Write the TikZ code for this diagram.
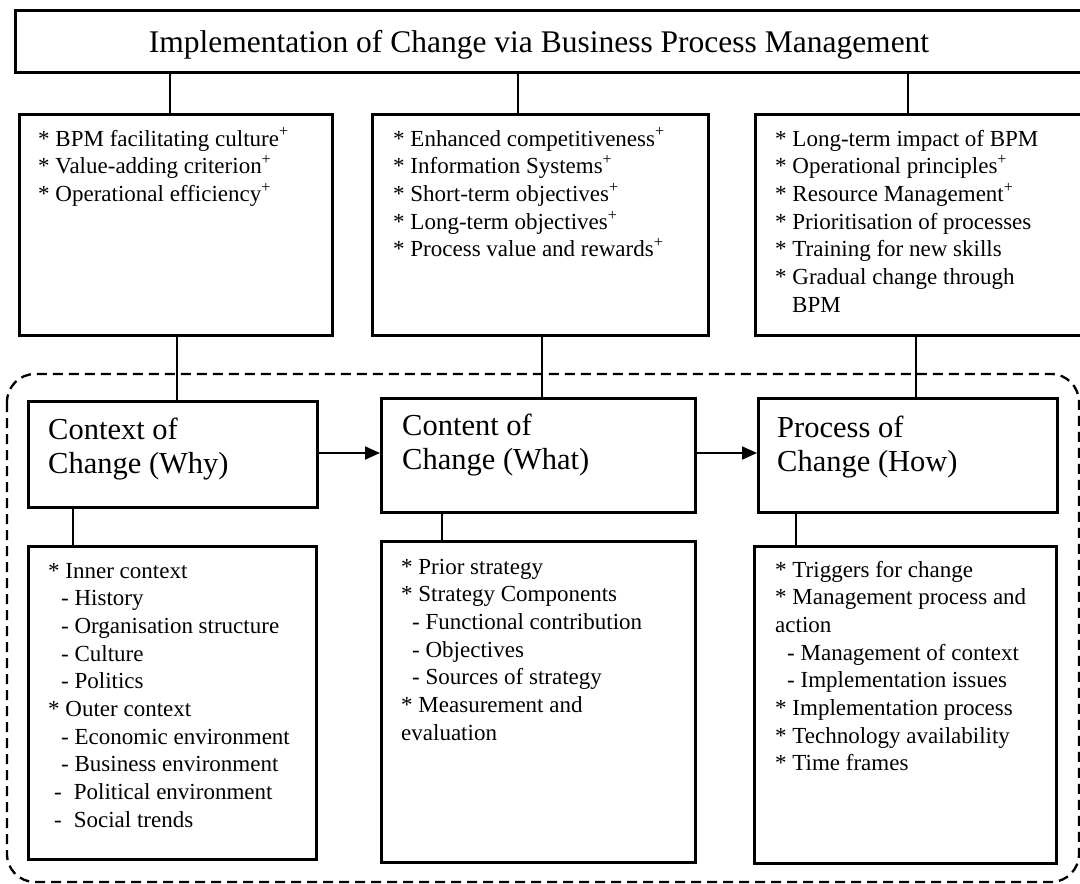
\documentclass[tikz,border=0pt]{standalone}
\usepackage{fontspec}
\setmainfont{Liberation Serif}
\usetikzlibrary{arrows.meta}
\newcommand{\blist}[1]{\begin{tabular}[t]{@{}l@{}}#1\end{tabular}}
\newcommand{\plus}{\textsuperscript{+}}
\newcommand{\nl}{\\{}}
\tikzset{
  box/.style={draw, line width=2.9pt, inner sep=0pt, anchor=north west, fill=white},
  conn/.style={line width=1.9pt},
  arr/.style={line width=1.9pt, -{Triangle[length=15pt,width=13pt]}},
  dashbox/.style={draw, line width=2.3pt, dash pattern=on 10pt off 6pt, rounded corners=28pt},
  body/.style={inner sep=0pt, anchor=base west, font=\fontsize{23}{27.7}\selectfont},
  mid/.style={inner sep=0pt, anchor=base west, font=\fontsize{30.5}{34}\selectfont},
  ttl/.style={inner sep=0pt, anchor=base, font=\fontsize{31.5}{36}\selectfont}
}
\begin{document}
\begin{tikzpicture}[x=1pt,y=-1pt]
\useasboundingbox (0,0) rectangle (1080,884);
\clip (0,0) rectangle (1080,884);
\fill[white] (0,0) rectangle (1080,884);
% dashed frame
\draw[dashbox] (7,374) rectangle (1079,882);
% title
\node[box, minimum width=1080pt, minimum height=62pt] (title) at (14,9) {};
\node[ttl] (titlet) at (539,52) {Implementation of Change via Business Process Management};
% top boxes
\node[box, minimum width=313pt, minimum height=221pt] (b1) at (18,113) {};
\node[box, minimum width=336pt, minimum height=221pt] (b2) at (371,113) {};
\node[box, minimum width=340pt, minimum height=221pt] (b3) at (754,113) {};
\node[body] (b1t) at (38,146) {\blist{* BPM facilitating culture\plus\nl* Value-adding criterion\plus\nl* Operational efficiency\plus}};
\node[body] (b2t) at (393,146) {\blist{* Enhanced competitiveness\plus\nl* Information Systems\plus\nl* Short-term objectives\plus\nl* Long-term objectives\plus\nl* Process value and rewards\plus}};
\node[body] (b3t) at (775,146) {\blist{* Long-term impact of BPM\nl* Operational principles\plus\nl* Resource Management\plus\nl* Prioritisation of processes\nl* Training for new skills\nl* Gradual change through\nl\hspace{17pt}BPM}};
% middle boxes
\node[box, minimum width=289pt, minimum height=106pt] (ctx) at (27,400) {};
\node[box, minimum width=314pt, minimum height=114pt] (cnt) at (380,397) {};
\node[box, minimum width=299pt, minimum height=114pt] (prc) at (757,397) {};
\node[mid] (ctxt) at (48,439) {\blist{Context of\nl Change (Why)}};
\node[mid] (cntt) at (402,435) {\blist{Content of\nl Change (What)}};
\node[mid] (prct) at (777,437) {\blist{Process of\nl Change (How)}};
% bottom boxes
\node[box, minimum width=288pt, minimum height=313pt] (b4) at (27,545) {};
\node[box, minimum width=314pt, minimum height=321pt] (b5) at (380,540) {};
\node[box, minimum width=302pt, minimum height=317pt] (b6) at (753,545) {};
\node[body] (b4t) at (48,578) {\blist{* Inner context\nl\hspace{13pt}- History\nl\hspace{13pt}- Organisation structure\nl\hspace{13pt}- Culture\nl\hspace{13pt}- Politics\nl* Outer context\nl\hspace{13pt}- Economic environment\nl\hspace{13pt}- Business environment\nl\hspace{6pt}-\hspace{12pt}Political environment\nl\hspace{6pt}-\hspace{12pt}Social trends}};
\node[body] (b5t) at (401,574) {\blist{* Prior strategy\nl* Strategy Components\nl\hspace{11pt}- Functional contribution\nl\hspace{11pt}- Objectives\nl\hspace{11pt}- Sources of strategy\nl* Measurement and\nl evaluation}};
\node[body] (b6t) at (775,577) {\blist{* Triggers for change\nl* Management process and\nl action\nl\hspace{12pt}- Management of context\nl\hspace{12pt}- Implementation issues\nl* Implementation process\nl* Technology availability\nl* Time frames}};
% connectors
\draw[conn] (170,0 |- title.south) -- (170,0 |- b1.north);
\draw[conn] (518,0 |- title.south) -- (518,0 |- b2.north);
\draw[conn] (908,0 |- title.south) -- (908,0 |- b3.north);
\draw[conn] (177,0 |- b1.south) -- (177,0 |- ctx.north);
\draw[conn] (542,0 |- b2.south) -- (542,0 |- cnt.north);
\draw[conn] (916,0 |- b3.south) -- (916,0 |- prc.north);
\draw[conn] (73,0 |- ctx.south) -- (73,0 |- b4.north);
\draw[conn] (442,0 |- cnt.south) -- (442,0 |- b5.north);
\draw[conn] (796,0 |- prc.south) -- (796,0 |- b6.north);
\draw[arr] (ctx.east |- 0,453) -- (cnt.west |- 0,453);
\draw[arr] (cnt.east |- 0,453) -- (prc.west |- 0,453);
\end{tikzpicture}
\end{document}
